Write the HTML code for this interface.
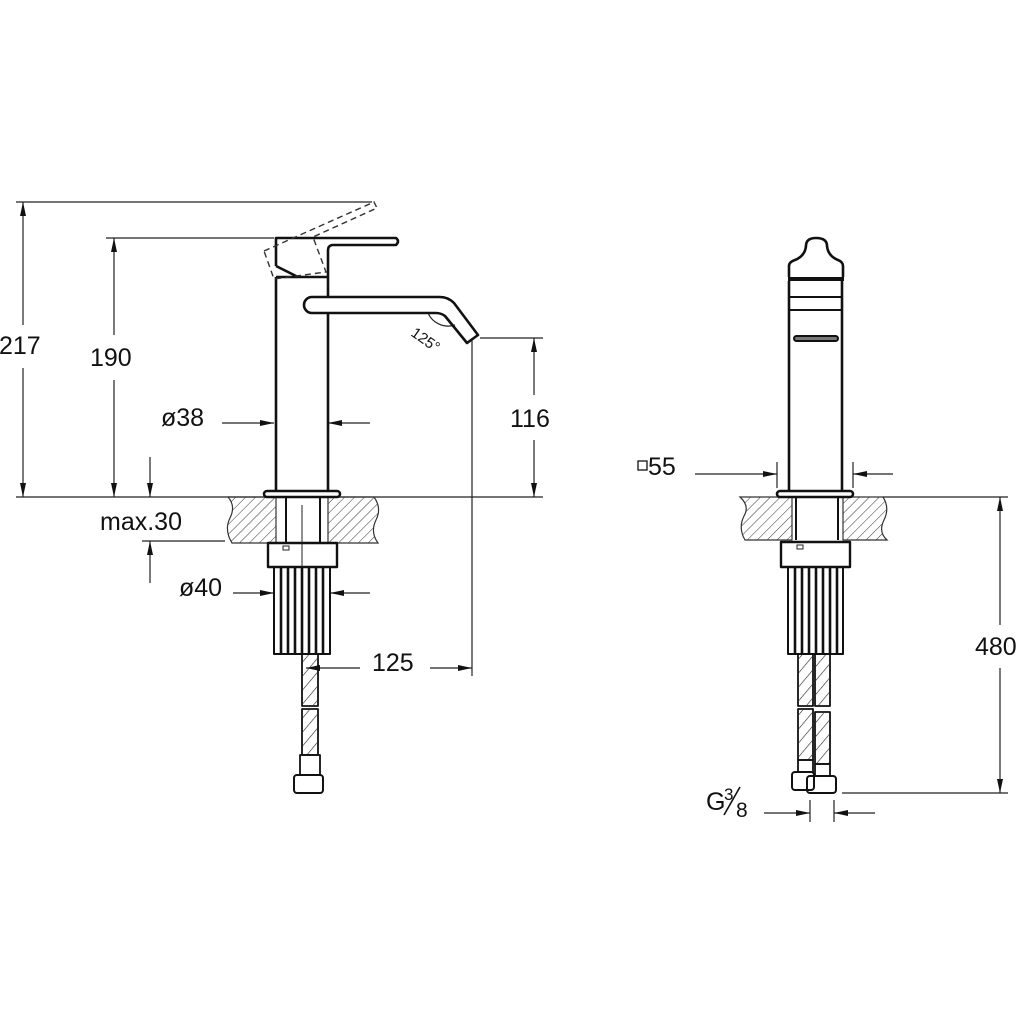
<!DOCTYPE html>
<html><head><meta charset="utf-8"><style>
html,body{margin:0;padding:0;background:#fff}
svg{display:block}
text{font-family:"Liberation Sans",sans-serif;fill:#111}
</style></head><body>
<svg width="1024" height="1024" viewBox="0 0 1024 1024" xmlns="http://www.w3.org/2000/svg">
<defs>
<marker id="a" viewBox="0 0 14 6" refX="14" refY="3" markerWidth="14" markerHeight="6" markerUnits="userSpaceOnUse" orient="auto">
<path d="M0,0 L14,3 L0,6 Z" fill="#111"/></marker>
<pattern id="h" width="7" height="7" patternUnits="userSpaceOnUse" patternTransform="rotate(45)">
<line x1="0" y1="0" x2="0" y2="7" stroke="#333" stroke-width="1"/></pattern>
<pattern id="b" width="9" height="9" patternUnits="userSpaceOnUse" patternTransform="rotate(40)">
<line x1="0" y1="0" x2="0" y2="9" stroke="#222" stroke-width="1.2"/></pattern>
</defs>
<g fill="none" stroke="#222" stroke-width="1.2">
<line x1="16" y1="202" x2="372" y2="202"/>
<line x1="106" y1="238" x2="274" y2="238"/>
<line x1="23" y1="325" x2="23" y2="202" marker-end="url(#a)"/>
<line x1="23" y1="368" x2="23" y2="497" marker-end="url(#a)"/>
<line x1="114" y1="335" x2="114" y2="238" marker-end="url(#a)"/>
<line x1="114" y1="380" x2="114" y2="497" marker-end="url(#a)"/>
<line x1="16" y1="497" x2="543" y2="497"/>
<line x1="150" y1="457" x2="150" y2="497" marker-end="url(#a)"/>
<line x1="142" y1="541" x2="225" y2="541"/>
<line x1="150" y1="583" x2="150" y2="541" marker-end="url(#a)"/>
<line x1="222" y1="423" x2="274" y2="423" marker-end="url(#a)"/>
<line x1="370" y1="423" x2="328" y2="423" marker-end="url(#a)"/>
<line x1="233" y1="593" x2="274" y2="593" marker-end="url(#a)"/>
<line x1="370" y1="593" x2="330" y2="593" marker-end="url(#a)"/>
<line x1="480" y1="338" x2="543" y2="338"/>
<line x1="472" y1="338" x2="472" y2="676"/>
<line x1="534" y1="395" x2="534" y2="338" marker-end="url(#a)"/>
<line x1="534" y1="440" x2="534" y2="497" marker-end="url(#a)"/>
<line x1="360" y1="668" x2="306" y2="668" marker-end="url(#a)"/>
<line x1="430" y1="668" x2="472" y2="668" marker-end="url(#a)"/>
<path d="M428,313 A22,22 0 0 0 455,325"/>
</g>
<path d="M228,497 L276,497 L276,543 L232,543 Q224,530 230,518 Q236,506 228,497 Z" fill="url(#h)" stroke="#333" stroke-width="1.2"/>
<path d="M328,497 L374,497 Q382,508 376,520 Q370,532 378,543 L328,543 Z" fill="url(#h)" stroke="#333" stroke-width="1.2"/>
<g fill="none" stroke="#111" stroke-width="2.6" stroke-linejoin="round">
<line x1="276" y1="277" x2="276" y2="491"/>
<line x1="328" y1="277" x2="328" y2="297"/>
<line x1="328" y1="313" x2="328" y2="491"/>
<line x1="276" y1="277" x2="328" y2="277"/>
<path d="M276,266 L276,238 L396,238 Q400,241 396,245 L332,245 Q328,246 328,250 L328,277"/>
<path d="M276,266 L298,277"/>
<path d="M312,297 L440,297 Q448,297 454,303 L478,335 L467,343 L445,316 Q441,313 436,313 L312,313 A8,8 0 0 1 312,297 Z"/>
<rect x="264" y="491" width="76" height="6" rx="3"/>
<line x1="286" y1="497" x2="286" y2="543" stroke-width="2"/>
<line x1="320" y1="497" x2="320" y2="543" stroke-width="2"/>
<rect x="268" y="543" width="69" height="24" stroke-width="2.4"/>
<rect x="274" y="567" width="56" height="87" stroke-width="2"/>
<rect x="302" y="654" width="16" height="52" stroke-width="1.8"/>
<rect x="302" y="709" width="16" height="46" stroke-width="1.8"/>
<rect x="300" y="755" width="20" height="20" stroke-width="1.8"/>
<rect x="294" y="775" width="29" height="18" rx="3" stroke-width="2"/>
</g>
<rect x="303" y="655" width="14" height="50" fill="url(#b)"/>
<rect x="303" y="710" width="14" height="44" fill="url(#b)"/>
<g stroke="#111" stroke-width="2.6">
<line x1="281" y1="567" x2="281" y2="654"/><line x1="288" y1="567" x2="288" y2="654"/>
<line x1="295" y1="567" x2="295" y2="654"/><line x1="302" y1="567" x2="302" y2="654"/>
<line x1="309" y1="567" x2="309" y2="654"/><line x1="316" y1="567" x2="316" y2="654"/>
<line x1="323" y1="567" x2="323" y2="654"/>
</g>
<line x1="302" y1="505" x2="302" y2="567" stroke="#222" stroke-width="1"/>
<rect x="283" y="546" width="6" height="4" fill="none" stroke="#222"/>
<path d="M264,251 L374,202 L377,208 L313,237 L326,272 L274,279 Z" fill="none" stroke="#333" stroke-width="1.4" stroke-dasharray="6,4"/>
<path d="M740,497 L792,497 L792,540 L745,540 Q738,528 744,516 Q750,506 740,497 Z" fill="url(#h)" stroke="#333" stroke-width="1.2"/>
<path d="M843,497 L883,497 Q890,508 884,520 Q878,532 887,540 L843,540 Z" fill="url(#h)" stroke="#333" stroke-width="1.2"/>
<g fill="none" stroke="#111" stroke-width="2.6" stroke-linejoin="round">
<path d="M789,277 L789,266 Q789,262 795,260 Q805,256 806,246 Q806,238 816,238 Q827,238 827,246 Q828,256 838,260 Q843,262 843,266 L843,277"/>
<line x1="788" y1="279" x2="844" y2="279" stroke-width="4"/>
<line x1="789" y1="281" x2="789" y2="491"/>
<line x1="842" y1="281" x2="842" y2="491"/>
<line x1="790" y1="297" x2="841" y2="297" stroke-width="2"/>
<line x1="790" y1="310" x2="841" y2="310" stroke-width="2"/>
<rect x="794" y="336" width="44" height="5" rx="2.5" stroke-width="2" fill="#777"/>
<rect x="777" y="491" width="76" height="6" rx="3"/>
<line x1="796" y1="497" x2="796" y2="540" stroke-width="2"/>
<line x1="838" y1="497" x2="838" y2="540" stroke-width="2"/>
<rect x="781" y="542" width="69" height="25" stroke-width="2.4"/>
<rect x="788" y="567" width="55" height="87" stroke-width="2"/>
<rect x="798" y="654" width="15" height="52" stroke-width="1.8"/>
<rect x="815" y="654" width="15" height="52" stroke-width="1.8"/>
<rect x="798" y="709" width="15" height="51" stroke-width="1.8"/>
<rect x="815" y="712" width="15" height="52" stroke-width="1.8"/>
<rect x="798" y="760" width="15" height="12" stroke-width="1.8"/>
<rect x="815" y="764" width="15" height="12" stroke-width="1.8"/>
<rect x="792" y="772" width="22" height="18" rx="3" stroke-width="2"/>
<rect x="807" y="776" width="29" height="17" rx="3" stroke-width="2"/>
</g>
<rect x="799" y="655" width="13" height="50" fill="url(#b)"/>
<rect x="816" y="655" width="13" height="50" fill="url(#b)"/>
<rect x="799" y="710" width="13" height="49" fill="url(#b)"/>
<rect x="816" y="713" width="13" height="50" fill="url(#b)"/>
<g stroke="#111" stroke-width="2.6">
<line x1="795" y1="567" x2="795" y2="654"/><line x1="802" y1="567" x2="802" y2="654"/>
<line x1="809" y1="567" x2="809" y2="654"/><line x1="816" y1="567" x2="816" y2="654"/>
<line x1="823" y1="567" x2="823" y2="654"/><line x1="830" y1="567" x2="830" y2="654"/>
<line x1="837" y1="567" x2="837" y2="654"/>
</g>
<rect x="797" y="545" width="6" height="4" fill="none" stroke="#222"/>
<g fill="none" stroke="#222" stroke-width="1.2">
<line x1="695" y1="474" x2="777" y2="474" marker-end="url(#a)"/>
<line x1="777" y1="462" x2="777" y2="488"/>
<line x1="853" y1="462" x2="853" y2="488"/>
<line x1="893" y1="474" x2="853" y2="474" marker-end="url(#a)"/>
<line x1="883" y1="497" x2="1008" y2="497"/>
<line x1="842" y1="793" x2="1008" y2="793"/>
<line x1="1000" y1="625" x2="1000" y2="497" marker-end="url(#a)"/>
<line x1="1000" y1="668" x2="1000" y2="793" marker-end="url(#a)"/>
<line x1="764" y1="813" x2="810" y2="813" marker-end="url(#a)"/>
<line x1="810" y1="800" x2="810" y2="822"/>
<line x1="834" y1="800" x2="834" y2="822"/>
<line x1="875" y1="813" x2="834" y2="813" marker-end="url(#a)"/>
</g>
<rect x="638" y="461" width="9" height="9" fill="none" stroke="#111" stroke-width="1.3"/>
<g font-size="25">
<text x="-1" y="354">217</text>
<text x="90" y="366">190</text>
<text x="161" y="426">ø38</text>
<text x="100" y="530">max.30</text>
<text x="179" y="596">ø40</text>
<text x="510" y="427">116</text>
<text x="372" y="671">125</text>
<text x="648" y="475">55</text>
<text x="975" y="655">480</text>
<text x="706" y="810">G</text>
<text x="724" y="800" font-size="17">3</text>
<text x="736" y="817" font-size="21">8</text>
</g>
<line x1="724" y1="815" x2="740" y2="787" stroke="#111" stroke-width="1.6"/>
<text x="0" y="0" font-size="15" transform="translate(410,335) rotate(35)">125°</text>
</svg>
</body></html>
